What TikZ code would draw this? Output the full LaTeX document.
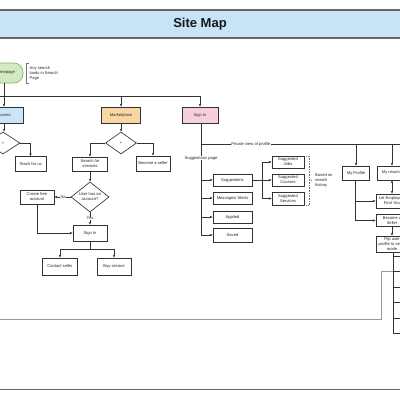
\documentclass[tikz,border=0pt]{standalone}
\usepackage{fontspec}
\setmainfont{Liberation Sans}
\usetikzlibrary{shapes.geometric,arrows.meta}
\definecolor{titleblue}{HTML}{C6E4F6}
\definecolor{cblue}{HTML}{CCE5F6}
\definecolor{morange}{HTML}{F9D7A4}
\definecolor{spink}{HTML}{F7CEDD}
\definecolor{hgreen}{HTML}{D3EAC0}
\definecolor{hgreenb}{HTML}{7FAF5A}
\definecolor{linec}{HTML}{333333}
\tikzset{
  every node/.style={font=\fontsize{4.1}{5}\selectfont, inner sep=0pt, align=center, text=black!85},
  box/.style={draw=linec, line width=0.65pt, fill=white, rectangle},
  dia/.style={draw=linec, line width=0.65pt, fill=white, diamond},
  conn/.style={draw=linec, line width=0.6pt},
  arr/.style={conn, -{Stealth[length=3pt,width=2.4pt]}},
  lbl/.style={fill=white, inner sep=0.4pt},
}
\begin{document}
\begin{tikzpicture}[x=1pt,y=-1pt]
\useasboundingbox (0,0) rectangle (400,400);
\clip (0,0) rectangle (400,400);
% title band
\fill[titleblue] (0,10) rectangle (400,38);
\draw[black!60, line width=1.1pt] (0,10) -- (400,10) (0,38) -- (400,38);
\node[font=\fontsize{13}{15}\selectfont\bfseries, text=black!90] (title) at (200,23.8) {Site Map};
\draw[black!60, line width=1.5pt] (0,389.5) -- (400,389.5);

% top level
\node[draw=hgreenb, fill=hgreen, line width=0.6pt, rounded corners=9pt, minimum width=36pt, minimum height=20pt] (hp) at (5,73) {Homepage};
\node[anchor=west, align=left] (ann) at (29.5,73) {Any search\\lands in Search\\Page};
\draw[conn, black!55] (28.5,63) -- (26.5,63) -- (26.5,83) -- (28.5,83);
\coordinate (L0) at (0,96);
\coordinate (Lm) at (121,96);
\coordinate (Ls) at (200,96);
\draw[conn] (L0) -- (Ls);
\node[box, fill=cblue, minimum width=40pt, minimum height=16pt] (courses) at (3,115) {Courses};
\node[box, fill=morange, minimum width=39pt, minimum height=16pt] (market) at (121,115) {Marketplace};
\node[box, fill=spink, minimum width=36pt, minimum height=16pt] (signin) at (200,115) {Sign in};
\coordinate (hpd) at (4,83);
\draw[arr] (hpd) -- (hpd |- courses.north);
\draw[arr] (Lm) -- (market.north);
\draw[arr] (Ls) -- (signin.north);

% courses branch
\node[dia, minimum width=34pt, minimum height=22pt] (d1) at (3,143) {+};
\node[box, minimum width=31pt, minimum height=15pt] (teach) at (30.5,164) {Teach for us};
\draw[arr] ([xshift=1pt]courses.south) -- ([xshift=1pt]courses.south |- d1.north);
\draw[arr] (d1.east) -| (teach.north);

% marketplace branch
\node[dia, minimum width=31pt, minimum height=22pt] (d2) at (121,143) {+};
\node[box, minimum width=35pt, minimum height=14pt] (search) at (90,164) {Search for\\services};
\node[box, minimum width=34pt, minimum height=15pt] (become) at (153,163.5) {Become a seller};
\draw[arr] (market.south) -- (d2.north);
\draw[arr] (d2.west) -| (search.north);
\draw[arr] (d2.east) -| (become.north);
\node[dia, minimum width=38pt, minimum height=28pt] (d3) at (90,197) {User has an\\account?};
\node[box, minimum width=34pt, minimum height=14pt] (create) at (37,197) {Create free\\account};
\node[box, minimum width=34pt, minimum height=16pt] (signin2) at (90,233) {Sign in};
\node[box, minimum width=35pt, minimum height=17pt] (contact) at (60,266.5) {Contact seller};
\node[box, minimum width=34pt, minimum height=17pt] (buy) at (114,266.5) {Buy service};
\draw[arr] (search.south) -- (d3.north);
\draw[arr] (d3.west) -- node[lbl, pos=0.45] {No} (create.east);
\draw[arr] (d3.south) -- node[lbl, pos=0.5] {Yes} (signin2.north);
\draw[arr] (create.south) |- (signin2.west);
\coordinate (sj) at (90,249);
\draw[conn] (signin2.south) -- (sj);
\draw[arr] (sj) -| (contact.north);
\draw[arr] (sj) -| (buy.north);

% sign in branch
\node[box, minimum width=39pt, minimum height=12pt] (sugg) at (232.5,180) {Suggestions};
\node[box, minimum width=39pt, minimum height=12pt] (msg) at (232.5,198) {Messages/ Alerts};
\node[box, minimum width=39pt, minimum height=12pt] (applied) at (232.5,217) {Applied};
\node[box, minimum width=39pt, minimum height=14pt] (saved) at (232.5,235) {Saved};
\coordinate (vs) at (201,235);
\draw[conn] ([xshift=1pt]signin.south) -- (vs);
\node[lbl] (sp) at (201,158) {Suggestions page};
\draw[arr] (201,180) -- (sugg.west);
\draw[arr] (201,198) -- (msg.west);
\draw[arr] (201,217) -- (applied.west);
\draw[arr] (vs) -- (saved.west);

\node[box, minimum width=32pt, minimum height=12pt] (sjobs) at (288,162) {Suggested\\Jobs};
\node[box, minimum width=32pt, minimum height=12pt] (scourses) at (288,180) {Suggested\\Courses};
\node[box, minimum width=32pt, minimum height=13pt] (sserv) at (288,198.5) {Suggested\\Services};
\coordinate (sv) at (262,180);
\draw[conn] (sugg.east) -- (sv);
\draw[conn] (262,162) -- (262,198.5);
\draw[arr] (262,162) -- (sjobs.west);
\draw[arr] (sv) -- (scourses.west);
\draw[arr] (262,198.5) -- (sserv.west);
\draw[black!55, densely dotted, line width=0.6pt] (306,156) -- (309,156) -- (309,205) -- (306,205);
\draw[black!55, densely dotted, line width=0.6pt] (309,180.5) -- (311,180.5);
\node[anchor=west, align=left] (based) at (315,180) {Based on\\search\\history};

% private profile
\coordinate (pv) at (201,144);
\coordinate (pe) at (400,144);
\draw[conn] (pv) -- node[lbl, pos=0.25] {Private view of profile} (pe);
\node[box, minimum width=27pt, minimum height=14pt] (myprof) at (356,173) {My Profile};
\node[box, minimum width=30pt, minimum height=14pt] (myres) at (392,173) {My resume};
\node[box, minimum width=32pt, minimum height=14pt] (letemp) at (392,201) {Let Employers\\Find You};
\node[box, minimum width=32pt, minimum height=12pt] (becsel) at (392,220.5) {Become a\\Seller};
\node[box, minimum width=32pt, minimum height=16pt] (flip) at (392,244) {Flip user\\profile to seller\\mode};
\draw[arr] (356,144) -- (myprof.north);
\draw[arr] (392,144) -- (myres.north);
\draw[conn, {Stealth[length=3pt,width=2.4pt]}-{Stealth[length=3pt,width=2.4pt]}] (myres.south) -- (letemp.north);
\draw[conn] ([xshift=-1pt]myprof.south) -- (355,220.5);
\draw[arr] (355,201) -- (letemp.west);
\draw[arr] (355,220.5) -- (becsel.west);
\draw[arr] (becsel.south) -- (flip.north);

% stacked cells below flip
\draw[conn] ([xshift=1pt]flip.south) -- (393,256);
\foreach \ya/\yb [count=\i] in {256/271,271/287,287/302,302/318,318/333}{
  \node[box, line width=0.45pt, anchor=north west, minimum width=25pt, minimum height={\yb-\ya}] (cell\i) at (393,\ya) {};
}
% gray connector
\draw[black!40, line width=0.8pt] (0,319) -- (381,319) -- (381,271) -- (cell2.north west);
\end{tikzpicture}
\end{document}
